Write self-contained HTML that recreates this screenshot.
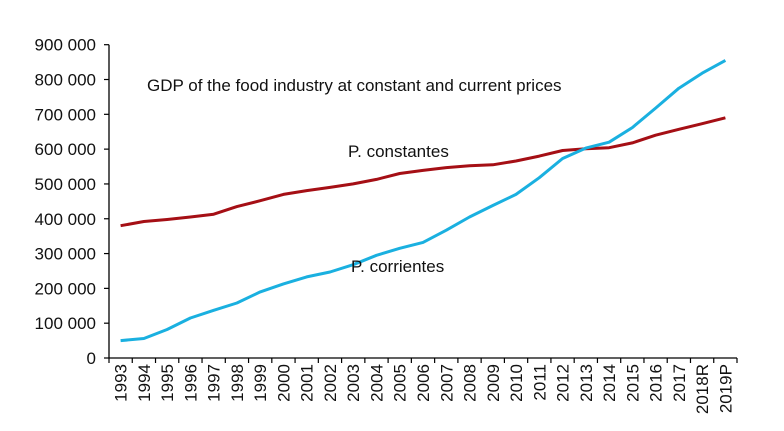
<!DOCTYPE html>
<html><head><meta charset="utf-8"><style>
html,body{margin:0;padding:0;background:#fff;}
svg{display:block;font-family:"Liberation Sans",Arial,sans-serif;}
</style></head><body>
<svg id="chart" width="784" height="431"></svg>
<script>
const categories=["1993","1994","1995","1996","1997","1998","1999","2000","2001","2002","2003","2004","2005","2006","2007","2008","2009","2010","2011","2012","2013","2014","2015","2016","2017","2018R","2019P"];
const constantes=[380000,392000,398000,405000,413000,435000,452000,470000,481000,490000,500000,513000,530000,539000,547000,552000,555000,566000,580000,596000,601000,604000,618000,640000,657000,673000,690000];
const corrientes=[50000,56000,82000,115000,137000,158000,190000,213000,233000,247000,268000,295000,315000,332000,367000,405000,438000,470000,518000,573000,603000,620000,662000,718000,775000,818000,855000];
const yTicks=[0,100000,200000,300000,400000,500000,600000,700000,800000,900000];
const yTickLabels=["0","100 000","200 000","300 000","400 000","500 000","600 000","700 000","800 000","900 000"];

const NS="http://www.w3.org/2000/svg";
const svg=document.getElementById('chart');
const x0=109,x1=737,y0=358,yTop=44.7,yMax=900000;
const FS=17;
const band=(x1-x0)/categories.length;
const xPos=i=>x0+band*(i+0.5);
const yPos=v=>y0-(v/yMax)*(y0-yTop);
function mk(tag,attrs){const e=document.createElementNS(NS,tag);for(const k in attrs)e.setAttribute(k,attrs[k]);svg.appendChild(e);return e;}

const yAxis=mk('line',{x1:x0,y1:yTop,x2:x0,y2:y0,stroke:'#000','stroke-width':1.3});


const xAxis=mk('line',{x1:x0,y1:y0,x2:x1,y2:y0,stroke:'#000','stroke-width':1.3});



yTicks.forEach((v,i)=>{
  const y=yPos(v);
  const t=mk('line',{x1:x0-5,y1:y,x2:x0,y2:y,stroke:'#000','stroke-width':1.2});
  
  
  const l=mk('text',{x:x0-13,y:y+6,'text-anchor':'end','font-size':FS,fill:'#111'});
  l.textContent=yTickLabels[i];
  
  
});
for(let i=0;i<=categories.length;i++){
  const x=x0+band*i;
  const t=mk('line',{x1:x,y1:y0,x2:x,y2:y0+5,stroke:'#000','stroke-width':1.2});
  
  
}
categories.forEach((c,i)=>{
  const x=xPos(i)+6,y=y0+6;
  const l=mk('text',{x:x,y:y,'text-anchor':'end','font-size':FS,fill:'#111',transform:`rotate(-90 ${x} ${y})`});
  l.textContent=c;
  
  
});

function series(vals,color,name){
  const d=vals.map((v,i)=>(i?'L':'M')+xPos(i).toFixed(1)+' '+yPos(v).toFixed(1)).join(' ');
  const p=mk('path',{d:d,fill:'none',stroke:color,'stroke-width':3,'stroke-linejoin':'round'});
  
  
}
series(constantes,'#a50f15','line-constant-prices');
series(corrientes,'#1ab0e0','line-current-prices');

const title=mk('text',{x:147,y:91,'font-size':FS,fill:'#111'});
title.textContent='GDP of the food industry at constant and current prices';


const lc=mk('text',{x:348,y:157,'font-size':FS,fill:'#111'});
lc.textContent='P. constantes';


const lr=mk('text',{x:351,y:272,'font-size':FS,fill:'#111'});
lr.textContent='P. corrientes';


</script>
</body></html>
